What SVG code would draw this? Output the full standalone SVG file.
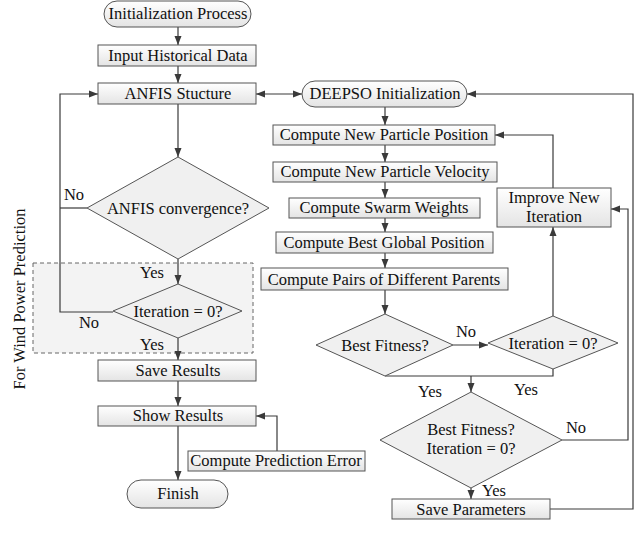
<svg xmlns="http://www.w3.org/2000/svg" width="644" height="533" viewBox="0 0 644 533">
<defs>
<linearGradient id="g" x1="0" y1="0" x2="0" y2="1">
<stop offset="0" stop-color="#ffffff"/>
<stop offset="1" stop-color="#e4e4e4"/>
</linearGradient>
<marker id="ah" markerUnits="userSpaceOnUse" markerWidth="9" markerHeight="8" refX="9" refY="4" orient="auto-start-reverse">
<path d="M0,0.5 L9,4 L0,7.5 z" fill="#3a3a3a"/>
</marker>
<style>
.box{fill:url(#g);stroke:#555;stroke-width:1}
.dia{fill:#f0f0f0;stroke:#555;stroke-width:1}
.t{font-family:"Liberation Serif","Times New Roman",serif;font-size:16.5px;fill:#111;text-anchor:middle}
.c{fill:none;stroke:#3a3a3a;stroke-width:1.2}
.a{marker-end:url(#ah)}
</style>
</defs>
<rect x="0" y="0" width="644" height="533" fill="#fff"/>
<g id="region">
<rect x="33" y="263" width="220" height="90" fill="#f3f3f3" stroke="#666" stroke-width="1" stroke-dasharray="4,3"/>
<text class="t" transform="translate(25,299) rotate(-90)">For Wind Power Prediction</text>
</g>
<g id="connectors">
<path class="c a" d="M178,27 V45"/>
<path class="c a" d="M178,66 V83"/>
<path class="c a" d="M178,104 V157"/>
<path class="c" d="M87,208 H60"/>
<path class="c a" d="M113,312 H60 V94 H98"/>
<path class="c a" d="M178,259 V284"/>
<path class="c a" d="M178,338 V360"/>
<path class="c a" d="M178,381 V406"/>
<path class="c a" d="M178,426 V480"/>
<path class="c a" d="M277,451 V416 H256"/>
<path class="c a" d="M256,94 H302" marker-start="url(#ah)"/>
<path class="c a" d="M385,107 V125"/>
<path class="c a" d="M385,145 V162"/>
<path class="c a" d="M385,182 V198"/>
<path class="c a" d="M385,218 V232"/>
<path class="c a" d="M385,253 V268"/>
<path class="c a" d="M385,290 V314"/>
<path class="c a" d="M453,345 H488"/>
<path class="c a" d="M553,316 V227"/>
<path class="c a" d="M553,188 V135 H495"/>
<path class="c" d="M385,376 H553 V369"/>
<path class="c a" d="M471,376 V392"/>
<path class="c a" d="M562,440 H628 V209 H611"/>
<path class="c a" d="M471,488 V499"/>
<path class="c a" d="M550,509 H633 V94 H467"/>
</g>
<g id="labels">
<text class="t" x="74" y="200">No</text>
<text class="t" x="152" y="278">Yes</text>
<text class="t" x="89" y="328">No</text>
<text class="t" x="152" y="350">Yes</text>
<text class="t" x="466" y="337">No</text>
<text class="t" x="430" y="397">Yes</text>
<text class="t" x="526" y="395">Yes</text>
<text class="t" x="576" y="433">No</text>
<text class="t" x="494" y="496">Yes</text>
</g>
<g id="init"><rect class="box" x="104" y="1" width="147" height="26" rx="13"/><text class="t" x="178" y="19">Initialization Process</text></g>
<g id="input"><rect class="box" x="98" y="45" width="158" height="21"/><text class="t" x="178" y="61">Input Historical Data</text></g>
<g id="anfis"><rect class="box" x="98" y="83" width="158" height="21"/><text class="t" x="178" y="99">ANFIS Stucture</text></g>
<g id="conv"><polygon class="dia" points="178,157 269,208 178,259 87,208"/><text class="t" x="178" y="214">ANFIS convergence?</text></g>
<g id="iter1"><polygon class="dia" points="178,284 242,311 178,338 113,311"/><text class="t" x="178" y="317">Iteration = 0?</text></g>
<g id="save"><rect class="box" x="98" y="360" width="158" height="21"/><text class="t" x="178" y="376">Save Results</text></g>
<g id="show"><rect class="box" x="98" y="406" width="158" height="20"/><text class="t" x="178" y="421">Show Results</text></g>
<g id="cpe"><rect class="box" x="188" y="451" width="177" height="20"/><text class="t" x="276" y="466">Compute Prediction Error</text></g>
<g id="finish"><rect class="box" x="127" y="480" width="101" height="28" rx="14"/><text class="t" x="178" y="499">Finish</text></g>
<g id="deepso"><rect class="box" x="302" y="81" width="165" height="26" rx="13"/><text class="t" x="385" y="99">DEEPSO Initialization</text></g>
<g id="cnpp"><rect class="box" x="273" y="125" width="222" height="20"/><text class="t" x="384" y="140">Compute New Particle Position</text></g>
<g id="cnpv"><rect class="box" x="273" y="162" width="224" height="20"/><text class="t" x="385" y="177">Compute New Particle Velocity</text></g>
<g id="csw"><rect class="box" x="289" y="198" width="191" height="20"/><text class="t" x="384" y="213">Compute Swarm Weights</text></g>
<g id="cbgp"><rect class="box" x="276" y="232" width="217" height="21"/><text class="t" x="384" y="248">Compute Best Global Position</text></g>
<g id="cpdp"><rect class="box" x="261" y="268" width="247" height="22"/><text class="t" x="384" y="285">Compute Pairs of Different Parents</text></g>
<g id="bf"><polygon class="dia" points="385,314 453,345 385,376 316,345"/><text class="t" x="385" y="351">Best Fitness?</text></g>
<g id="iter2"><polygon class="dia" points="553,316 618,343 553,369 488,343"/><text class="t" x="553" y="349">Iteration = 0?</text></g>
<g id="improve"><rect class="box" x="497" y="188" width="114" height="39"/><text class="t" x="554" y="203">Improve New</text><text class="t" x="554" y="222">Iteration</text></g>
<g id="bfi"><polygon class="dia" points="471,392 562,440 471,488 380,440"/><text class="t" x="471" y="435">Best Fitness?</text><text class="t" x="471" y="454">Iteration = 0?</text></g>
<g id="savep"><rect class="box" x="392" y="499" width="158" height="20"/><text class="t" x="471" y="515">Save Parameters</text></g>
</svg>
